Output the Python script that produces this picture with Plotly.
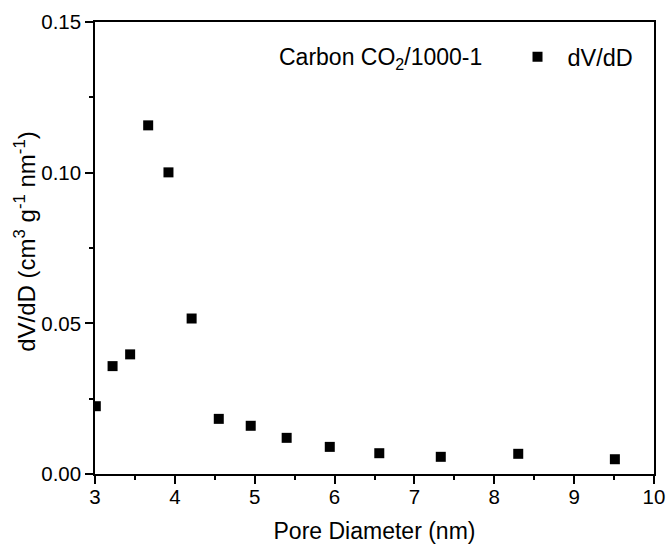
import plotly.graph_objects as go

pore_diameter = [3.01, 3.22, 3.44, 3.666, 3.92, 4.21, 4.55, 4.95, 5.40, 5.94, 6.56, 7.33, 8.30, 9.51]
dvdd = [0.0225, 0.0358, 0.0397, 0.1157, 0.1001, 0.0516, 0.0183, 0.0160, 0.0120, 0.0090, 0.0069, 0.0057, 0.0067, 0.0049]

series_name = "dV/dD"
sample_label = "Carbon CO<sub>2</sub>/1000-1"
x_title = "Pore Diameter (nm)"
y_title = "dV/dD (cm<sup>3</sup> g<sup>-1</sup> nm<sup>-1</sup>)"

FONT = "Liberation Sans, Arial, sans-serif"

# plot-area geometry in pixels
L, R, T, B = 95, 654.5, 22, 474.5
W, H = R - L, B - T

fig = go.Figure()
fig.add_trace(go.Scatter(
    x=pore_diameter, y=dvdd, mode="markers", name=series_name,
    marker=dict(symbol="square", size=10, color="black", line=dict(width=0)),
    showlegend=True,
))

axis_common = dict(
    showline=True, linecolor="black", linewidth=1.5, mirror=True,
    ticks="outside", ticklen=8, tickwidth=1.5, tickcolor="black",
    showgrid=False, zeroline=False, automargin=False,
    tickfont=dict(family=FONT, size=20.5, color="black"),
)

fig.update_layout(
    width=668, height=548,
    margin=dict(l=L, r=668 - R, t=T, b=548 - B),
    paper_bgcolor="white", plot_bgcolor="white",
    font=dict(family=FONT, color="black"),
    xaxis=dict(
        range=[3, 10], dtick=1, tick0=3, ticklabelstandoff=-4,
        title=dict(text=x_title, font=dict(family=FONT, size=23, color="black"), standoff=16),
        minor=dict(dtick=0.5, ticks="outside", ticklen=4, tickwidth=1.5, tickcolor="black"),
        **axis_common,
    ),
    yaxis=dict(
        range=[0, 0.15], dtick=0.05, tick0=0, tickformat=".2f",
        minor=dict(dtick=0.025, ticks="outside", ticklen=4, tickwidth=1.5, tickcolor="black"),
        **axis_common,
    ),
    legend=dict(
        font=dict(family=FONT, size=23.5, color="black"),
        x=(639 - L) / W, y=(B - 35) / H, xanchor="right", yanchor="top",
        bgcolor="rgba(0,0,0,0)", borderwidth=0,
        itemwidth=50,
    ),
    annotations=[
        dict(
            text=sample_label, xref="paper", yref="paper",
            x=(484 - L) / W, y=(B - 59) / H,
            xanchor="right", yanchor="middle", showarrow=False,
            font=dict(family=FONT, size=23, color="black"),
        ),
        dict(
            text=y_title, xref="paper", yref="paper",
            x=(25 - L) / W, y=(B - 242) / H, textangle=-90,
            xanchor="center", yanchor="middle", showarrow=False,
            font=dict(family=FONT, size=24, color="black"),
        ),
    ],
)

fig.write_html("out.html")
